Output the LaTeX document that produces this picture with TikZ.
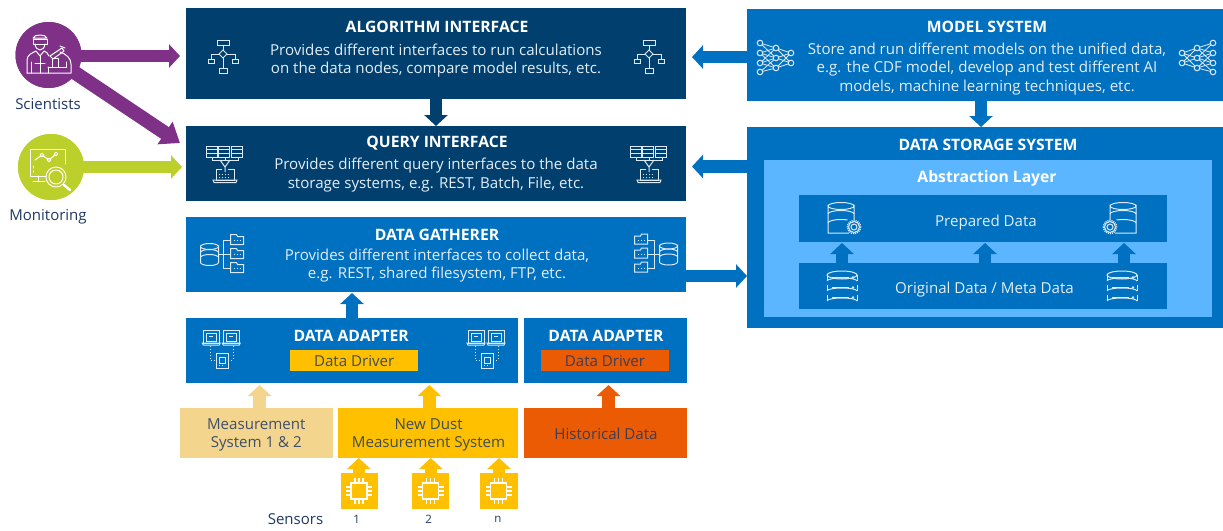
\documentclass[tikz,border=0pt]{standalone}
\usepackage{fontspec}
\setmainfont{Open Sans}
\usetikzlibrary{arrows.meta}
\definecolor{navy}{HTML}{003F6E}
\definecolor{mblue}{HTML}{0070C0}
\definecolor{lblue}{HTML}{5CB6FF}
\definecolor{amber}{HTML}{FFC000}
\definecolor{sand}{HTML}{F4D58E}
\definecolor{rust}{HTML}{EA5B04}
\definecolor{purp}{HTML}{7F3188}
\definecolor{lime}{HTML}{BBD02A}
\definecolor{inktext}{HTML}{1F3864}
\definecolor{softw}{HTML}{E4EEF7}
\definecolor{iconl}{HTML}{DCEAF6}
\tikzset{
  x=1pt,y=-1pt,
  box/.style={draw=none,inner sep=0pt,outer sep=0pt},
  titletext/.style={text=white,font=\fontsize{15.7}{18}\selectfont\bfseries,inner sep=0pt},
  bodytext/.style={text=softw,align=center,font=\fontsize{15.1}{18.7}\selectfont,inner sep=0pt},
  darktext/.style={text=inktext,align=center,font=\fontsize{15.1}{18.7}\selectfont,inner sep=0pt,opacity=.85},
  lab/.style={text=inktext,font=\fontsize{15}{17}\selectfont,inner sep=0pt},
  smalllab/.style={text=inktext,font=\fontsize{11.5}{13}\selectfont,inner sep=0pt},
  fat/.style={draw=#1,line width=12.5pt,-{Triangle[length=11pt,width=23pt]}},
  ic/.style={draw=iconl,line width=1pt,fill=none},
  flowicon/.pic={
    \draw[ic] (-5,-17) rectangle (7,-12);
    \draw[ic] (1,-12) -- (1,-7) (1,1) -- (1,11);
    \draw[ic] (1,-7) -- (5,-3) -- (1,1) -- (-3,-3) -- cycle;
    \draw[ic] (-3,-3) -- (-11,-3) -- (-11,2) (5,-3) -- (13,-3) -- (13,2);
    \draw[ic] (-14,2) rectangle (-8,6) (10,2) rectangle (16,6);
    \draw[ic] (-3,11) rectangle (5,16);
  },
  queryicon/.pic={
    \foreach \x in {-19,-6.5,6} {
      \draw[ic] (\x,-18) rectangle ++(11,11);
      \draw[ic] (\x,-14.5) -- ++(11,0) (\x,-11) -- ++(11,0);
    }
    \draw[ic] (0,-7) -- (0,-4) (-13,-7) -- (-13,-4) -- (13,-4) -- (13,-7);
    \draw[ic] (-5,-4) -- (0,3) -- (5,-4) (0,3) -- (0,8);
    \draw[ic] (-9,5) -- (-9,16) -- (9,16) -- (9,5) -- (3,5) (-9,5) -- (-3,5);
    \draw[ic] (-12,16) -- (12,16) -- (11,18.5) -- (-11,18.5) -- cycle;
    \draw[ic,dotted] (-6,10) -- (6,10) (-6,13) -- (6,13);
  },
  gathericon/.pic={
    \draw[ic] (-22,-8) arc[start angle=180,end angle=0,x radius=9,y radius=3]
       -- (-4,8) arc[start angle=0,end angle=180,x radius=9,y radius=3] -- cycle;
    \draw[ic] (-22,-8) arc[start angle=180,end angle=360,x radius=9,y radius=3];
    \draw[ic] (-22,-2) arc[start angle=180,end angle=360,x radius=9,y radius=3];
    \draw[ic] (-22,3) arc[start angle=180,end angle=360,x radius=9,y radius=3];
    \draw[ic] (-4,0) -- (1,0);
    \draw[ic] (8,-14) -- (1,-14) -- (1,14) -- (8,14) (1,0) -- (8,0);
    \foreach \y in {-14,0,14} {
      \draw[ic] (8,\y-4) -- (8,\y+4) -- (21,\y+4) -- (21,\y-4) -- (15,\y-4) -- (14,\y-6) -- (8,\y-6) -- cycle;
      \draw[ic,dotted] (11,\y) -- (19,\y);
    }
  },
  lapicon/.pic={
    \foreach \x in {-19,1} {
      \draw[ic] (\x,-19) rectangle ++(16,13);
      \draw[ic] (\x+3,-16) rectangle ++(10,8);
      \draw[ic] (\x-1,-6) -- ++(18,0) -- ++(-1,2) -- ++(-16,0) -- cycle;
      \draw[ic] (\x+6,-13) -- ++(4,0);
    }
    \draw[ic,dotted] (-12,-3) -- (-12,11) -- (-6,11) (11,-3) -- (11,11) -- (6,11);
    \draw[ic] (-6,4) rectangle (6,19) (-3,8) rectangle (3,14);
    \draw[ic,dotted] (-3,16.5) -- (3,16.5);
  },
  netone/.pic={
    \foreach \a/\b in {-15/-10,-15/0,-5/-10,-5/0,-5/10,5/-10,5/0,5/10,14/0,14/10}
      {\draw[ic,line width=.8pt] (-16,\a) -- (0,\b);}
    \foreach \b/\c in {-10/-5,-10/5,0/-5,0/5,10/-5,10/5}
      {\draw[ic,line width=.8pt] (0,\b) -- (15,\c);}
    \foreach \a in {-15,-5,5,14} {\draw[ic,fill=mblue] (-16,\a) circle[radius=2.8];}
    \foreach \b in {-10,0,10} {\draw[ic,fill=mblue] (0,\b) circle[radius=2.8];}
    \foreach \c in {-5,5} {\draw[ic,fill=mblue] (15,\c) circle[radius=2.8];}
  },
  gearicon/.pic={
    \draw[ic] (4,15) -- (-17,15) -- (-17,-12) arc[start angle=180,end angle=0,x radius=13,y radius=3.5] -- (9,2);
    \draw[ic] (-17,-12) arc[start angle=180,end angle=360,x radius=13,y radius=3.5];
    \draw[ic] (-17,-4) arc[start angle=180,end angle=360,x radius=13,y radius=3.5];
    \draw[ic] (-17,5) arc[start angle=180,end angle=300,x radius=13,y radius=3.5] ;
    \draw[ic,densely dotted,line width=1.6pt] (9,9) circle[radius=6.5];
    \draw[ic] (9,9) circle[radius=5.5] (9,9) circle[radius=3];
  },
  listicon/.pic={
    \foreach \y in {-11,-1,9} {
      \draw[ic] (-15,\y) -- (-15,\y+6);
      \draw[ic] (15,\y) -- (15,\y+6);
      \draw[ic] (-15,\y+6) arc[start angle=180,end angle=360,x radius=15,y radius=3];
      \draw[ic] (-10,\y+2.5) -- (7,\y+2.5);
      \fill[iconl] (11,\y+2.5) circle[radius=1.3];
    }
    \draw[ic] (0,-11) ellipse[x radius=15,y radius=4];
  },
  chipicon/.pic={
    \draw[white,line width=1.8pt] (-8,-8) rectangle (8,8);
    \draw[white,line width=1.2pt]
      (-4,-8) -- (-4,-13) (0,-8) -- (0,-13) (4,-8) -- (4,-13)
      (-4,8) -- (-4,13) (0,8) -- (0,13) (4,8) -- (4,13)
      (-8,-4) -- (-13,-4) (-8,0) -- (-13,0) (-8,4) -- (-13,4)
      (8,-4) -- (13,-4) (8,0) -- (13,0) (8,4) -- (13,4);
  },
}
\begin{document}
\begin{tikzpicture}
\useasboundingbox (0,0) rectangle (1223,530);
\fill[white] (0,0) rectangle (1223,530);
% boxes
\node[box,fill=navy,minimum width=500pt,minimum height=91pt] (alg) at (436,53.5) {};
\node[box,fill=navy,minimum width=500pt,minimum height=75pt] (qry) at (436,163.5) {};
\node[box,fill=mblue,minimum width=500.5pt,minimum height=75pt] (gath) at (436.2,254.5) {};
\node[box,fill=mblue,minimum width=332pt,minimum height=65pt] (adp1) at (352,350.5) {};
\node[box,fill=mblue,minimum width=162.5pt,minimum height=65pt] (adp2) at (605.3,350.5) {};
\node[box,fill=sand,minimum width=152.7pt,minimum height=50pt] (meas) at (256.3,433) {};
\node[box,fill=amber,minimum width=180pt,minimum height=50pt] (dust) at (428,433) {};
\node[box,fill=rust,minimum width=162.5pt,minimum height=50pt] (hist) at (605.3,433) {};
\node[box,fill=amber,minimum width=37pt,minimum height=36pt] (chipa) at (359.3,490.5) {};
\node[box,fill=amber,minimum width=37pt,minimum height=36pt] (chipb) at (430.8,490.5) {};
\node[box,fill=amber,minimum width=38pt,minimum height=36pt] (chipc) at (499,490.5) {};
\node[box,fill=mblue,minimum width=476pt,minimum height=92pt] (model) at (985,55) {};
\node[box,fill=mblue,minimum width=476pt,minimum height=201pt] (store) at (985,227.5) {};
\node[box,fill=lblue,minimum width=448pt,minimum height=157pt] (abst) at (988,238.5) {};
\node[box,fill=mblue,minimum width=368pt,minimum height=47pt] (prep) at (983,218.5) {};
\node[box,fill=mblue,minimum width=368pt,minimum height=46pt] (orig) at (983,286) {};
\node[box,fill=amber,minimum width=128.5pt,minimum height=21pt] (drva) at (354.2,360.5) {};
\node[box,fill=rust,minimum width=128pt,minimum height=21pt] (drvb) at (605,360.5) {};
% connector ends
\coordinate (sciq) at (180,143);
\coordinate (qs) at (747,166.5);
\coordinate (as) at (747,57);
\coordinate (gs) at (686,276);
\node[circle,fill=purp,minimum size=66pt,inner sep=0pt] (sci) at (48.5,55) {};
\node[circle,fill=lime,minimum size=66pt,inner sep=0pt] (mon) at (51,167) {};
% arrows
\draw[fat=purp,shorten >=6pt] ([yshift=-1pt]sci.center) -- ([yshift=-1pt]sci.center -| alg.west);
\draw[fat=purp,-{Triangle[length=18pt,width=26pt]},line width=14pt] (sci.center) -- (sciq);
\draw[fat=lime,shorten >=4pt] (mon.center) -- (mon.center -| qry.west);
\draw[fat=navy] (alg.south) -- (qry.north);
\draw[fat=mblue,shorten >=6pt] (as) -- (as -| alg.east);
\draw[fat=mblue,shorten >=6pt] (qs) -- (qs -| qry.east);
\draw[fat=mblue] (gs) -- (gs -| store.west);
\draw[fat=mblue,shorten >=1pt] (adp1.north) -- (adp1.north |- gath.south);
\draw[fat=mblue] ([xshift=-4pt]model.south) -- ([xshift=-4pt]store.north);
\draw[fat=sand,shorten >=2pt] ([xshift=3.3pt]meas.north) -- ([xshift=3.3pt]meas.north |- adp1.south);
\draw[fat=amber,shorten >=2pt] ([xshift=1.3pt]dust.north) -- ([xshift=1.3pt]dust.north |- adp1.south);
\draw[fat=rust,shorten >=2pt] ([xshift=3.2pt]hist.north) -- ([xshift=3.2pt]hist.north |- adp2.south);
\draw[fat=amber] ([xshift=-.5pt]chipa.north) -- ([xshift=-.5pt]chipa.north |- dust.south);
\draw[fat=amber] (chipb.north) -- (chipb.north |- dust.south);
\draw[fat=amber] (chipc.north) -- (chipc.north |- dust.south);
\draw[fat=mblue,shorten >=1pt] ([xshift=-141pt]orig.north) -- ([xshift=-141pt]prep.south);
\draw[fat=mblue,shorten >=1pt] ([xshift=2pt]orig.north) -- ([xshift=2pt]prep.south);
\draw[fat=mblue,shorten >=1pt] ([xshift=141pt]orig.north) -- ([xshift=141pt]prep.south);
% circles on top of arrow starts
\fill[purp] (sci) circle[radius=33];
\fill[lime] (mon) circle[radius=33];
% texts
\node[titletext] (t1) at (437,27) {ALGORITHM INTERFACE};
\node[bodytext] (b1) at (436,60.5) {Provides different interfaces to run calculations\\on the data nodes, compare model results, etc.};
\node[titletext] (t2) at (437,143) {QUERY INTERFACE};
\node[bodytext] (b2) at (436,175) {Provides different query interfaces to the data\\storage systems, e.g. REST, Batch, File, etc.};
\node[titletext] (t3) at (437,235) {DATA GATHERER};
\node[bodytext] (b3) at (437,265.5) {Provides different interfaces to collect data,\\e.g. REST, shared filesystem, FTP, etc.};
\node[titletext] (t4) at (351.2,336) {DATA ADAPTER};
\node[titletext] (t5) at (606,336) {DATA ADAPTER};
\node[darktext] (d1) at ([yshift=-.5pt]drva) {Data Driver};
\node[darktext] (d2) at ([yshift=-.5pt]drvb) {Data Driver};
\node[darktext] (m1) at (256.3,434.8) {Measurement\\System 1 \& 2};
\node[darktext] (m2) at (428.6,434.8) {New Dust\\Measurement System};
\node[darktext] (m3) at (606,434) {Historical Data};
\node[lab] (s0) at (295.5,519) {Sensors};
\node[smalllab] (s1) at (356.7,519.5) {1};
\node[smalllab] (s2) at (428.6,519.5) {2};
\node[smalllab] (s3) at (498,519.5) {n};
\node[lab] (l1) at (48,104) {Scientists};
\node[lab] (l2) at (48,217) {Monitoring};
\node[titletext] (t6) at (987,27) {MODEL SYSTEM};
\node[bodytext] (b6) at (987,69) {Store and run different models on the unified data,\\e.g. the CDF model, develop and test different AI\\models, machine learning techniques, etc.};
\node[titletext] (t7) at (988,144.5) {DATA STORAGE SYSTEM};
\node[titletext] (t8) at (987,178) {Abstraction Layer};
\node[bodytext] (p1) at (986,223) {Prepared Data};
\node[bodytext] (p2) at (984.5,290) {Original Data / Meta Data};
% icons
\pic at (222,57) {flowicon};
\pic at (648,57) {flowicon};
\pic at (225,164) {queryicon};
\pic at (649,164) {queryicon};
\pic at (222.5,254.5) {gathericon};
\pic[xscale=-1] at (655.5,254) {gathericon};
\pic at (222.3,349) {lapicon};
\pic at (487,349) {lapicon};
\pic at (776,58) {netone};
\pic[xscale=-1] at (1197,58) {netone};
\pic at (845,218) {gearicon};
\pic[xscale=-1] at (1119,218) {gearicon};
\pic at (842,286) {listicon};
\pic at (1122,286) {listicon};
\pic at (359,491) {chipicon};
\pic at (430.5,491) {chipicon};
\pic at (498.5,491) {chipicon};
% scientist
\begin{scope}[draw=white,line width=1pt,line cap=round,line join=round]
\draw (33,38) .. controls (34,34) and (46,34) .. (47,38) -- cycle;
\draw (33,39) rectangle (47,44);
\draw (35,44) .. controls (36,52) and (44,52) .. (45,44);
\draw (27,73) -- (27,60) .. controls (27,55) and (32,53) .. (36,51) -- (40,56) -- (44,51) .. controls (46,52) and (48,53) .. (49,56);
\draw (27,73) -- (71,73) -- (71,64) .. controls (71,58) and (66,54) .. (60,52);
\draw (40,56) -- (40,73);
\draw (31,62) -- (31,73) (35,63) -- (45,63);
\draw (48,67) -- (66,67) -- (66,62) (48,73) -- (48,67);
\draw (52,67) -- (52,58) -- (58,58) -- (58,67);
\draw (50,56) -- (62,48) -- (64,51) -- (53,59) -- cycle;
\draw (60,46) -- (65,48);
\end{scope}
% monitoring
\begin{scope}[draw=white,line width=1pt,line cap=round,line join=round]
\draw (46,176) -- (30,176) -- (30,149) -- (65,149) -- (65,164);
\draw (35,160) -- (42,155) -- (49,160) -- (56,154);
\draw[fill=lime] (42,155) circle[radius=1.8] (49,160) circle[radius=1.8] (56,154) circle[radius=1.8];
\draw (38,176) -- (38,181) (33,181) -- (45,181);
\draw (33,166) -- (33,168) (33,171) -- (33,172);
\draw (56,177) circle[radius=10] (56,177) circle[radius=7];
\draw[line width=2.4pt] (64,185) -- (70,190);
\end{scope}
\end{tikzpicture}
\end{document}
